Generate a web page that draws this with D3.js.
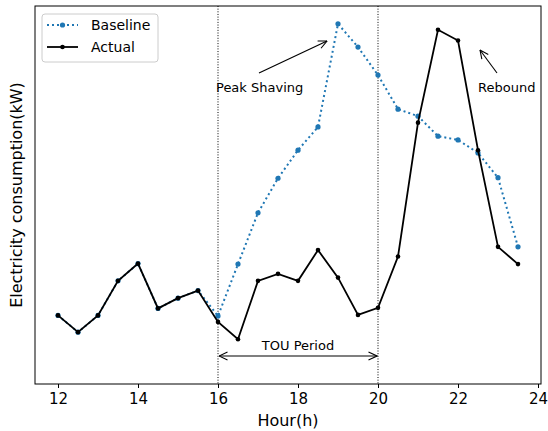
<!DOCTYPE html>
<html>
<head>
<meta charset="utf-8">
<script src="https://cdn.jsdelivr.net/npm/d3@7/dist/d3.min.js"></script>
<style>
  html, body { margin: 0; padding: 0; background: #fff; }
  svg { display: block; font-family: "DejaVu Sans", sans-serif; }
</style>
</head>
<body>
<svg id="chart" width="548" height="431"></svg>
<script>
// Half-hourly load profile, 12:00 to 23:30
const hours = [12, 12.5, 13, 13.5, 14, 14.5, 15, 15.5, 16, 16.5, 17, 17.5,
               18, 18.5, 19, 19.5, 20, 20.5, 21, 21.5, 22, 22.5, 23, 23.5];

const baseline = [1.27, 0.96, 1.27, 1.91, 2.23, 1.40, 1.59, 1.73, 1.26, 2.22, 3.17, 3.81,
                  4.33, 4.76, 6.67, 6.24, 5.72, 5.09, 4.96, 4.59, 4.52, 4.28, 3.82, 2.54];

const actual = [1.27, 0.96, 1.27, 1.91, 2.23, 1.40, 1.59, 1.73, 1.15, 0.83, 1.91, 2.04,
                1.91, 2.48, 1.97, 1.28, 1.41, 2.36, 4.84, 6.56, 6.36, 4.33, 2.54, 2.22];

const xTicks = [12, 14, 16, 18, 20, 22, 24];
const touStart = 16, touEnd = 20;

const svg = d3.select("#chart");
const margin = { left: 35, right: 7, top: 6, bottom: 47 };
const W = 548, H = 431;

const x = d3.scaleLinear().domain([11.425, 24.075]).range([margin.left, W - margin.right]);
const y = d3.scaleLinear().domain([0, 7]).range([H - margin.bottom, margin.top]);

const blue = "#1f77b4";

// arrow heads (open, matplotlib-like "->")
const defs = svg.append("defs");
defs.append("marker")
  .attr("id", "open-arrow")
  .attr("viewBox", "0 0 10 10")
  .attr("refX", 9.5).attr("refY", 5)
  .attr("markerWidth", 10).attr("markerHeight", 10)
  .attr("markerUnits", "userSpaceOnUse")
  .attr("orient", "auto-start-reverse")
  .append("path")
  .attr("d", "M1,1 L9.5,5 L1,9")
  .attr("fill", "none")
  .attr("stroke", "#000")
  .attr("stroke-width", 1.1);

// TOU boundaries
[touStart, touEnd].forEach(h => {
  svg.append("line")
    .attr("x1", x(h)).attr("x2", x(h))
    .attr("y1", margin.top).attr("y2", H - margin.bottom)
    .attr("stroke", "#000").attr("stroke-width", 1)
    .attr("stroke-dasharray", "1,1.65");
});

// Baseline series
const line = d3.line().x(d => x(d[0])).y(d => y(d[1]));
const basePts = hours.map((h, i) => [h, baseline[i]]);
const actPts = hours.map((h, i) => [h, actual[i]]);

svg.append("path")
  .datum(basePts)
  .attr("d", line)
  .attr("fill", "none")
  .attr("stroke", blue)
  .attr("stroke-width", 2)
  .attr("stroke-dasharray", "2,3");
svg.append("g").selectAll("circle")
  .data(basePts)
  .join("circle")
  .attr("cx", d => x(d[0])).attr("cy", d => y(d[1]))
  .attr("r", 2.6).attr("fill", blue);

// Actual series
svg.append("path")
  .datum(actPts)
  .attr("d", line)
  .attr("fill", "none")
  .attr("stroke", "#000")
  .attr("stroke-width", 1.8);
svg.append("g").selectAll("circle")
  .data(actPts)
  .join("circle")
  .attr("cx", d => x(d[0])).attr("cy", d => y(d[1]))
  .attr("r", 2.3).attr("fill", "#000");

// Annotations
function arrow(x1, y1, x2, y2, both) {
  const l = svg.append("line")
    .attr("x1", x1).attr("y1", y1).attr("x2", x2).attr("y2", y2)
    .attr("stroke", "#000").attr("stroke-width", 1.1)
    .attr("marker-end", "url(#open-arrow)");
  if (both) l.attr("marker-start", "url(#open-arrow)");
}

svg.append("text")
  .attr("x", 216).attr("y", 92)
  .attr("font-size", 13).attr("fill", "#000")
  .text("Peak Shaving");
arrow(259, 73, 327, 41);

svg.append("text")
  .attr("x", 478).attr("y", 92)
  .attr("font-size", 13).attr("fill", "#000")
  .text("Rebound");
arrow(497, 73, 480, 50);

svg.append("text")
  .attr("x", x((touStart + touEnd) / 2)).attr("y", 350)
  .attr("text-anchor", "middle")
  .attr("font-size", 13).attr("fill", "#000")
  .text("TOU Period");
arrow(x(touStart) + 1, 356, x(touEnd) - 1, 356, true);

// Axes frame
svg.append("rect")
  .attr("x", margin.left).attr("y", margin.top)
  .attr("width", W - margin.left - margin.right)
  .attr("height", H - margin.top - margin.bottom)
  .attr("fill", "none").attr("stroke", "#000").attr("stroke-width", 1);

const xAxis = d3.axisBottom(x).tickValues(xTicks).tickSize(4).tickPadding(5)
  .tickFormat(d3.format("d"));
const gx = svg.append("g")
  .attr("transform", `translate(0,${H - margin.bottom})`)
  .call(xAxis);
gx.select(".domain").remove();
gx.selectAll("text").attr("font-size", 15).attr("fill", "#000")
  .attr("font-family", "DejaVu Sans");
gx.selectAll("line").attr("stroke", "#000");

svg.append("text")
  .attr("x", (margin.left + W - margin.right) / 2).attr("y", 426)
  .attr("text-anchor", "middle")
  .attr("font-size", 16).attr("fill", "#000")
  .text("Hour(h)");

svg.append("text")
  .attr("transform", `translate(22,${(margin.top + H - margin.bottom) / 2}) rotate(-90)`)
  .attr("text-anchor", "middle")
  .attr("font-size", 16).attr("fill", "#000")
  .text("Electricity consumption(kW)");

// Legend
const lg = svg.append("g").attr("transform", "translate(42,14)");
lg.append("rect")
  .attr("width", 116).attr("height", 48).attr("rx", 3)
  .attr("fill", "#fff").attr("fill-opacity", 0.8)
  .attr("stroke", "#ccc").attr("stroke-width", 1);
const items = [
  { label: "Baseline", color: blue, dash: "2,3", w: 2, r: 2.6 },
  { label: "Actual", color: "#000", dash: null, w: 1.8, r: 2.3 }
];
items.forEach((it, i) => {
  const yy = 11 + i * 22;
  lg.append("line")
    .attr("x1", 5).attr("x2", 36).attr("y1", yy).attr("y2", yy)
    .attr("stroke", it.color).attr("stroke-width", it.w)
    .attr("stroke-dasharray", it.dash);
  lg.append("circle").attr("cx", 20.5).attr("cy", yy).attr("r", it.r).attr("fill", it.color);
  lg.append("text")
    .attr("x", 49).attr("y", yy + 5)
    .attr("font-size", 14).attr("fill", "#000")
    .text(it.label);
});
</script>
</body>
</html>
